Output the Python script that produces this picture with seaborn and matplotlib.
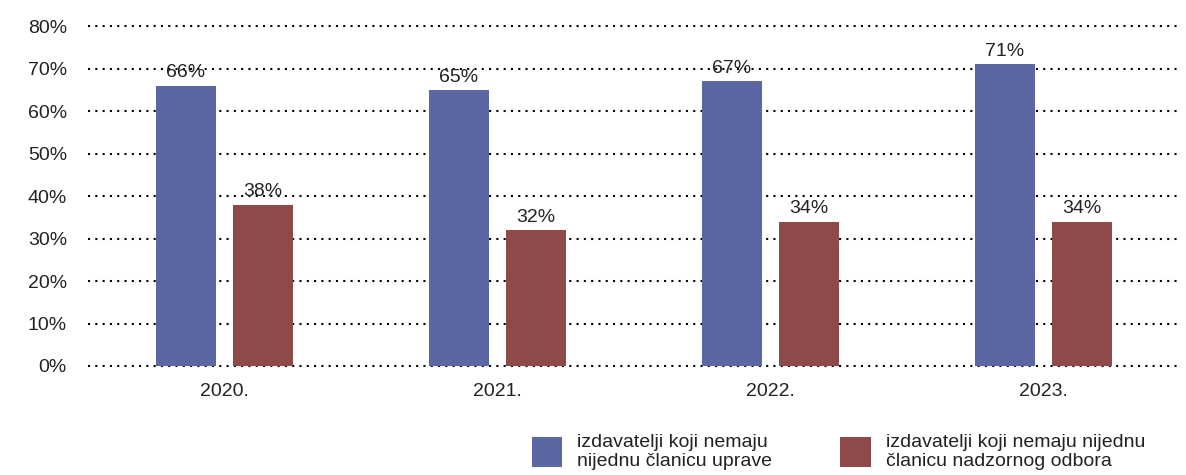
import pandas as pd
import numpy as np
import matplotlib.pyplot as plt
import seaborn as sns
from matplotlib.ticker import PercentFormatter

years = ["2020.", "2021.", "2022.", "2023."]
series_names = [
    "izdavatelji koji nemaju\nnijednu članicu uprave",
    "izdavatelji koji nemaju nijednu\nčlanicu nadzornog odbora",
]
uprave = [66, 65, 67, 71]
nadzorni = [38, 32, 34, 34]
colors = ["#5A67A3", "#8E4A48"]

df = pd.DataFrame({
    "year": years * 2,
    "series": [series_names[0]] * 4 + [series_names[1]] * 4,
    "value": uprave + nadzorni,
})

sns.set_style("white")
plt.rcParams["font.family"] = ["Liberation Sans", "DejaVu Sans"]
fs = 14

fig = plt.figure(figsize=(11.86, 4.75), dpi=100)
ax = fig.add_axes([0.074, 0.2295, 0.921, 0.7155])

sns.barplot(data=df, x="year", y="value", hue="series", palette=colors,
            width=0.564, gap=0.22, saturation=1, linewidth=0, ax=ax, legend=True)

for cont in ax.containers:
    ax.bar_label(cont, fmt="%g%%", padding=3, fontsize=fs, color="#222222")

ax.set_ylim(0, 80)
ax.set_xlim(-0.5, 3.5)
ax.set_yticks(np.arange(0, 81, 10))
ax.yaxis.set_major_formatter(PercentFormatter(decimals=0))
ax.grid(axis="y", color="black", linestyle=(0, (1, 2.5)), linewidth=1.5)
ax.grid(axis="x", visible=False)
for ln in ax.get_ygridlines():
    ln.set_clip_on(False)
ax.set_axisbelow(True)
sns.despine(ax=ax, left=True, bottom=True)
ax.tick_params(axis="y", length=0, pad=15, labelsize=fs, labelcolor="#222222")
ax.tick_params(axis="x", length=0, pad=12, labelsize=fs, labelcolor="#222222")
ax.set_xlabel("")
ax.set_ylabel("")

handles, labels = ax.get_legend_handles_labels()
ax.get_legend().remove()
fig.legend(handles, labels, loc="upper left", bbox_to_anchor=(0.434, 0.124),
           ncol=2, frameon=False, fontsize=fs, handlelength=1.55,
           handleheight=1.95, handletextpad=0.77, columnspacing=3.5,
           labelspacing=0.3, labelcolor="#222222")

fig.savefig("out.png", dpi=100)
